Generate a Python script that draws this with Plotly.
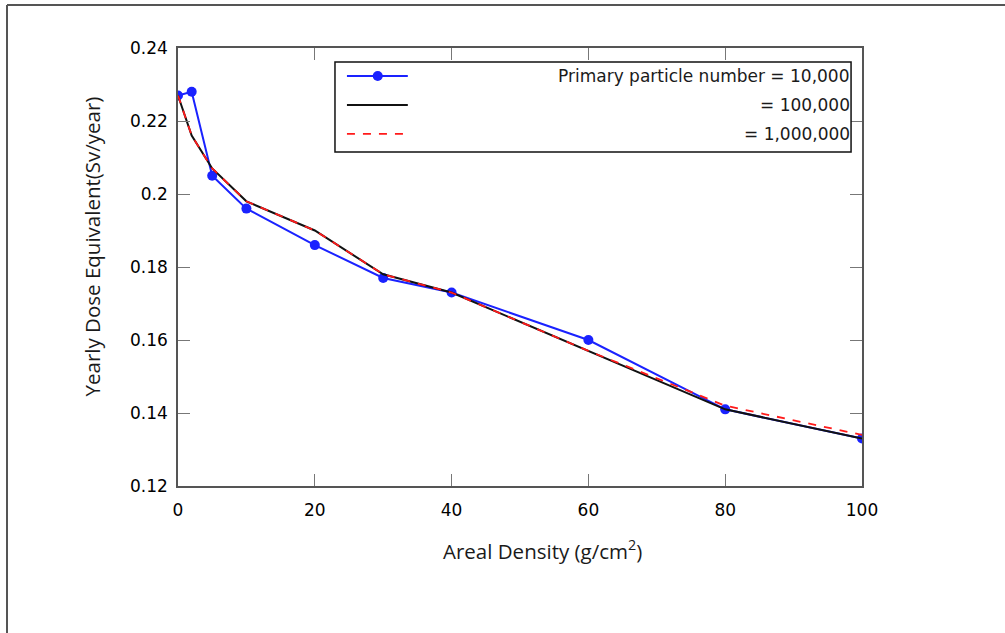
import plotly.graph_objects as go

areal_density = [0, 2, 5, 10, 20, 30, 40, 60, 80, 100]
dose_1e4 = [0.227, 0.228, 0.205, 0.196, 0.186, 0.177, 0.173, 0.160, 0.141, 0.133]
dose_1e5 = [0.227, 0.216, 0.207, 0.198, 0.190, 0.178, 0.173, 0.157, 0.141, 0.133]
dose_1e6 = [0.227, 0.216, 0.207, 0.198, 0.190, 0.178, 0.173, 0.157, 0.142, 0.134]

legend_labels = ["Primary particle number = 10,000", "= 100,000", "= 1,000,000"]
x_ticks = [0, 20, 40, 60, 80, 100]
y_ticks = [0.12, 0.14, 0.16, 0.18, 0.2, 0.22, 0.24]
y_tick_text = ["0.12", "0.14", "0.16", "0.18", "0.2", "0.22", "0.24"]
x_title = "Areal Density (g/cm<sup>2</sup>)"
y_title = "Yearly Dose Equivalent(Sv/year)"

BLUE = "#1a22ff"
fig = go.Figure()
fig.add_trace(go.Scatter(x=areal_density, y=dose_1e4, mode="lines+markers",
                         line=dict(color=BLUE, width=2),
                         marker=dict(color=BLUE, size=10),
                         name=legend_labels[0], showlegend=False))
fig.add_trace(go.Scatter(x=areal_density, y=dose_1e5, mode="lines",
                         line=dict(color="#111111", width=2),
                         name=legend_labels[1], showlegend=False))
fig.add_trace(go.Scatter(x=areal_density, y=dose_1e6, mode="lines",
                         line=dict(color="#ff1a1a", width=1.8, dash="8px,8px"),
                         name=legend_labels[2], showlegend=False))

# Custom legend (right-aligned text, as in reference)
shapes = []
annotations = []
lx0, lx1 = 0.2295, 0.984
ly0, ly1 = 0.7626, 0.968
shapes.append(dict(type="rect", xref="paper", yref="paper", x0=lx0, x1=lx1, y0=ly0, y1=ly1,
                   line=dict(color="#111111", width=1.5), fillcolor="white", layer="above"))
rows = [0.936, 0.870, 0.804]
styles = [dict(color=BLUE, width=2), dict(color="#111111", width=2),
          dict(color="#ff1a1a", width=1.8, dash="8px,8px")]
for ry, st, lab in zip(rows, styles, legend_labels):
    shapes.append(dict(type="line", xref="paper", yref="paper", x0=0.247, x1=0.336,
                       y0=ry, y1=ry, line=st, layer="above"))
    annotations.append(dict(xref="paper", yref="paper", x=0.985, y=ry, text=lab,
                            showarrow=False, xanchor="right", yanchor="middle",
                            font=dict(family="DejaVu Sans", size=17, color="#1a1a1a")))
# marker in legend
mx, my = 0.292, rows[0]
dx, dy = 5 / 684, 5 / 438
shapes.append(dict(type="circle", xref="paper", yref="paper", x0=mx - dx, x1=mx + dx,
                   y0=my - dy, y1=my + dy, fillcolor=BLUE, line=dict(color=BLUE, width=0),
                   layer="above"))

# axis titles (offset from centre as in the reference)
title_font = dict(family="Open Sans", size=20.5, color="#1a1a1a")
annotations.append(dict(xref="paper", yref="paper", x=0.5336, y=-0.146, text=x_title,
                        showarrow=False, xanchor="center", yanchor="middle", font=title_font))
annotations.append(dict(xref="paper", yref="paper", x=-0.1257, y=0.547, text=y_title,
                        showarrow=False, xanchor="center", yanchor="middle", textangle=-90,
                        font=title_font))

# outer frame (top and left border lines of the picture)
fx = (7 - 178) / 684
fy = 1 + (48 - 5) / 438
shapes.append(dict(type="line", xref="paper", yref="paper", x0=fx, x1=2, y0=fy, y1=fy,
                   line=dict(color="#555555", width=2)))
shapes.append(dict(type="line", xref="paper", yref="paper", x0=fx, x1=fx, y0=fy, y1=-2,
                   line=dict(color="#555555", width=2)))

tick_font = dict(family="DejaVu Sans", size=17, color="#000000")

fig.update_layout(
    width=1005, height=633,
    margin=dict(l=178, r=143, t=48, b=147),
    paper_bgcolor="white", plot_bgcolor="white",
    shapes=shapes, annotations=annotations,
    font=dict(family="DejaVu Sans", size=16, color="#222222"),
)
fig.update_xaxes(range=[0, 100], tickvals=x_ticks, ticktext=[str(v) for v in x_ticks],
                 showgrid=False, zeroline=False, showline=True, linecolor="#555555", linewidth=1.5,
                 mirror="ticks", ticks="inside", ticklen=12, tickcolor="#777777", tickwidth=1,
                 tickfont=tick_font, ticklabelstandoff=8)
fig.update_yaxes(range=[0.12, 0.24], tickvals=y_ticks, ticktext=y_tick_text,
                 showgrid=False, zeroline=False, showline=True, linecolor="#555555", linewidth=1.5,
                 mirror="ticks", ticks="inside", ticklen=12, tickcolor="#777777", tickwidth=1,
                 tickfont=tick_font, ticklabelstandoff=5)

fig.write_html("out.html")
